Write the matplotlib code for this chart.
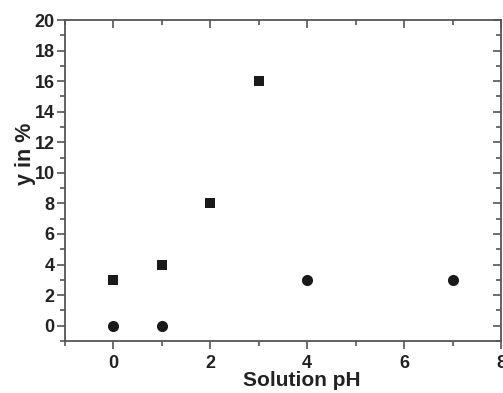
import matplotlib
matplotlib.use("Agg")
import matplotlib.pyplot as plt
from matplotlib.ticker import MultipleLocator

sq_x = [0, 1, 2, 3]
sq_y = [3, 4, 8, 16]
ci_x = [0, 1, 4, 7]
ci_y = [0, 0, 3, 3]

plt.rcParams['font.family'] = ['Liberation Sans', 'DejaVu Sans']
plt.rcParams['font.weight'] = 'bold'

fig = plt.figure(figsize=(5.03, 3.93), dpi=100)
ax = fig.add_axes([65/503, 1-341/393, (501-65)/503, (341-20)/393])
mc = '#1a1a1a'
ax.scatter(sq_x, sq_y, marker='s', s=54, color=mc, linewidths=0, zorder=3)
ax.scatter(ci_x, ci_y, marker='o', s=64, color=mc, linewidths=0, zorder=3)

ax.set_xlim(-1, 8)
ax.set_ylim(-1, 20)
ax.xaxis.set_major_locator(MultipleLocator(2))
ax.xaxis.set_minor_locator(MultipleLocator(1))
ax.yaxis.set_major_locator(MultipleLocator(2))
ax.yaxis.set_minor_locator(MultipleLocator(1))
for s in ax.spines.values():
    s.set_color('#555555')
    s.set_linewidth(1.3)
ax.tick_params(which='both', color='#555555', width=1.2, labelsize=13, labelcolor='#222222')
ax.tick_params(which='major', length=6)
ax.tick_params(which='minor', length=3.5)
ax.tick_params(which='both', top=True, right=True)
ax.tick_params(axis='x', which='both', direction='out', pad=4)
ax.tick_params(axis='y', which='both', direction='out', pad=1.5)
# top/right inward
for t in ax.xaxis.get_major_ticks() + ax.xaxis.get_minor_ticks():
    t.tick2line.set_marker(3)  # TICKDOWN
for t in ax.yaxis.get_major_ticks() + ax.yaxis.get_minor_ticks():
    t.tick2line.set_marker(0)  # TICKLEFT
for lab in ax.get_xticklabels() + ax.get_yticklabels():
    lab.set_fontweight('bold')
ax.set_xlabel('Solution pH', fontsize=15, fontweight='bold', color='#222222', labelpad=0)
ax.set_ylabel('y in %', fontsize=15.5, fontweight='bold', color='#222222', labelpad=0)
ax.xaxis.set_label_coords(0.544, -0.092)
ax.yaxis.set_label_coords(-0.066, 0.583)

fig.savefig('out.png', dpi=100)
